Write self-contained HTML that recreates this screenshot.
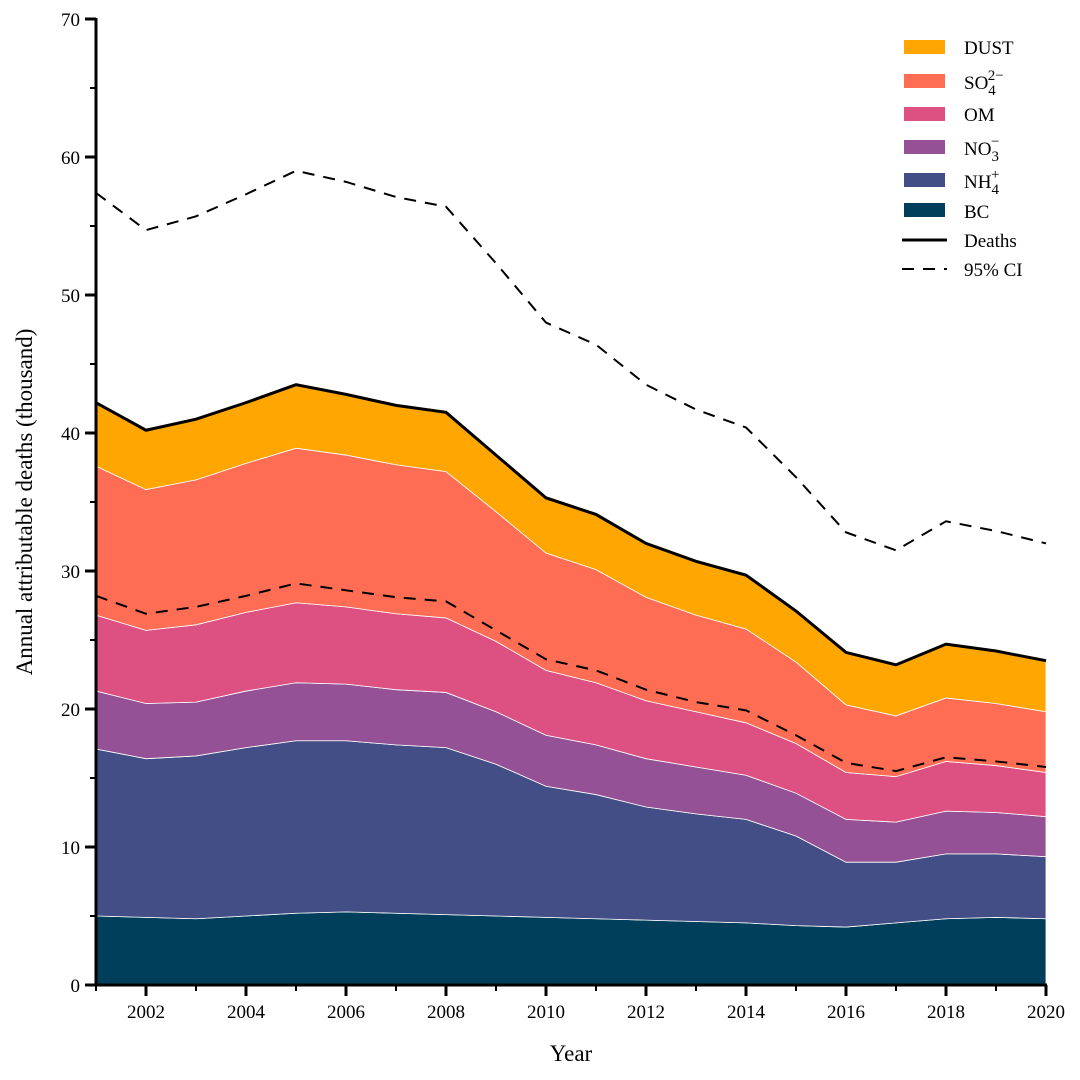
<!DOCTYPE html>
<html><head><meta charset="utf-8"><style>
body{margin:0;background:#fff}
svg{display:block;font-family:"Liberation Serif",serif}
</style></head><body>
<svg id="chart" width="1080" height="1080" viewBox="0 0 1080 1080" xmlns="http://www.w3.org/2000/svg">
<g id="areas"></g>
<g id="lines"></g>
<g id="axes"></g>
<text x="571" y="1061" font-size="23" text-anchor="middle">Year</text>
<text transform="translate(32,502) rotate(-90)" font-size="23" text-anchor="middle">Annual attributable deaths (thousand)</text>
<g font-size="19">
 <g><rect x="904" y="40" width="41" height="14" fill="#FFA600"/><text x="964" y="54">DUST</text></g>
 <g><rect x="904" y="74" width="41" height="14" fill="#FF6E54"/><text x="964" y="89">SO<tspan font-size="15" dy="6">4</tspan><tspan font-size="15" dy="-15" dx="-8">2−</tspan></text></g>
 <g><rect x="904" y="107" width="41" height="14" fill="#DD5182"/><text x="964" y="121">OM</text></g>
 <g><rect x="904" y="140" width="41" height="14" fill="#955196"/><text x="964" y="155">NO<tspan font-size="15" dy="6">3</tspan><tspan font-size="15" dy="-15" dx="-8">−</tspan></text></g>
 <g><rect x="904" y="173" width="41" height="14" fill="#444E86"/><text x="964" y="188">NH<tspan font-size="15" dy="6">4</tspan><tspan font-size="15" dy="-15" dx="-8">+</tspan></text></g>
 <g><rect x="904" y="203" width="41" height="14" fill="#003F5C"/><text x="964" y="218">BC</text></g>
 <g><line x1="902" y1="240" x2="947" y2="240" stroke="#000" stroke-width="3"/><text x="964" y="247">Deaths</text></g>
 <g><line x1="902" y1="269" x2="947" y2="269" stroke="#000" stroke-width="2" stroke-dasharray="12,9"/><text x="964" y="276">95% CI</text></g>
</g>
</svg>
<script>
const years=[2001,2002,2003,2004,2005,2006,2007,2008,2009,2010,2011,2012,2013,2014,2015,2016,2017,2018,2019,2020];
const bc  =[5.0,4.9,4.8,5.0,5.2,5.3,5.2,5.1,5.0,4.9,4.8,4.7,4.6,4.5,4.3,4.2,4.5,4.8,4.9,4.8];
const nh4 =[12.1,11.5,11.8,12.2,12.5,12.4,12.2,12.1,11.0,9.5,9.0,8.2,7.8,7.5,6.5,4.7,4.4,4.7,4.6,4.5];
const no3 =[4.2,4.0,3.9,4.1,4.2,4.1,4.0,4.0,3.8,3.7,3.6,3.5,3.4,3.2,3.1,3.1,2.9,3.1,3.0,2.9];
const om  =[5.5,5.3,5.6,5.7,5.8,5.6,5.5,5.4,5.1,4.7,4.5,4.2,4.0,3.8,3.6,3.4,3.3,3.6,3.4,3.2];
const so4 =[10.8,10.2,10.5,10.8,11.2,11.0,10.8,10.6,9.4,8.5,8.2,7.5,7.0,6.8,5.9,4.9,4.4,4.6,4.5,4.4];
const dust=[4.6,4.3,4.4,4.4,4.6,4.4,4.3,4.3,4.1,4.0,4.0,3.9,3.9,3.9,3.7,3.8,3.7,3.9,3.8,3.7];
const ciUpper=[57.4,54.7,55.7,57.3,59.0,58.2,57.1,56.4,52.3,48.0,46.4,43.5,41.7,40.4,36.8,32.8,31.5,33.6,32.9,32.0];
const ciLower=[28.2,26.9,27.4,28.2,29.1,28.6,28.1,27.8,25.7,23.6,22.8,21.4,20.5,19.9,18.1,16.1,15.5,16.5,16.2,15.8];
const yTicks=[0,10,20,30,40,50,60,70];
const xTickLabels=[2002,2004,2006,2008,2010,2012,2014,2016,2018,2020];

const NS="http://www.w3.org/2000/svg";
const X0=96,X1=1046,Y0=985,Y1=19,xMin=2001,xMax=2020,yMax=70;
const xs=v=>X0+(v-xMin)/(xMax-xMin)*(X1-X0);
const ys=v=>Y0-v/yMax*(Y0-Y1);
function mk(tag,parent,attrs){const e=document.createElementNS(NS,tag);for(const k in attrs)e.setAttribute(k,attrs[k]);parent.appendChild(e);return e;}

const series=[["bc",bc,"#003F5C"],["nh4",nh4,"#444E86"],["no3",no3,"#955196"],["om",om,"#DD5182"],["so4",so4,"#FF6E54"],["dust",dust,"#FFA600"]];
const areas=document.getElementById('areas');
let base=years.map(()=>0);
series.forEach(([name,vals,col])=>{
  const top=base.map((b,i)=>b+vals[i]);
  let d="M"+years.map((y,i)=>xs(y)+","+ys(top[i])).join("L");
  for(let i=years.length-1;i>=0;i--)d+="L"+xs(years[i])+","+ys(base[i]);
  d+="Z";
  const p=mk('path',areas,{d:d,fill:col,stroke:"#fff","stroke-width":"0.8"});
  
  
  base=top;
});
const lines=document.getElementById('lines');
const lp=arr=>"M"+years.map((y,i)=>xs(y)+","+ys(arr[i])).join("L");
const dl=mk('path',lines,{d:lp(base),fill:"none",stroke:"#000","stroke-width":"3"});


const cu=mk('path',lines,{d:lp(ciUpper),fill:"none",stroke:"#000","stroke-width":"2","stroke-dasharray":"12,9"});


const cl=mk('path',lines,{d:lp(ciLower),fill:"none",stroke:"#000","stroke-width":"2","stroke-dasharray":"12,9"});



const axes=document.getElementById('axes');
const ya=mk('line',axes,{x1:X0,y1:Y1-1,x2:X0,y2:Y0+1.5,stroke:"#000","stroke-width":"3"});


const xa=mk('line',axes,{x1:X0-1.5,y1:Y0,x2:X1+1,y2:Y0,stroke:"#000","stroke-width":"3"});


for(let v=5;v<yMax;v+=10){mk('line',axes,{x1:X0-6,y1:ys(v),x2:X0,y2:ys(v),stroke:"#000","stroke-width":"2"});}
yTicks.forEach(v=>{
  mk('line',axes,{x1:X0-11,y1:ys(v),x2:X0,y2:ys(v),stroke:"#000","stroke-width":"3"});
  const t=mk('text',axes,{x:X0-16,y:ys(v)+7,"font-size":"19","text-anchor":"end"});
  t.textContent=v;
  
  
});
years.forEach(y=>{if(y%2===1)mk('line',axes,{x1:xs(y),y1:Y0,x2:xs(y),y2:Y0+6,stroke:"#000","stroke-width":"2"});});
xTickLabels.forEach(y=>{
  mk('line',axes,{x1:xs(y),y1:Y0,x2:xs(y),y2:Y0+11,stroke:"#000","stroke-width":"3"});
  const t=mk('text',axes,{x:xs(y),y:Y0+33,"font-size":"19","text-anchor":"middle"});
  t.textContent=y;
  
  
});
</script>
</body></html>
